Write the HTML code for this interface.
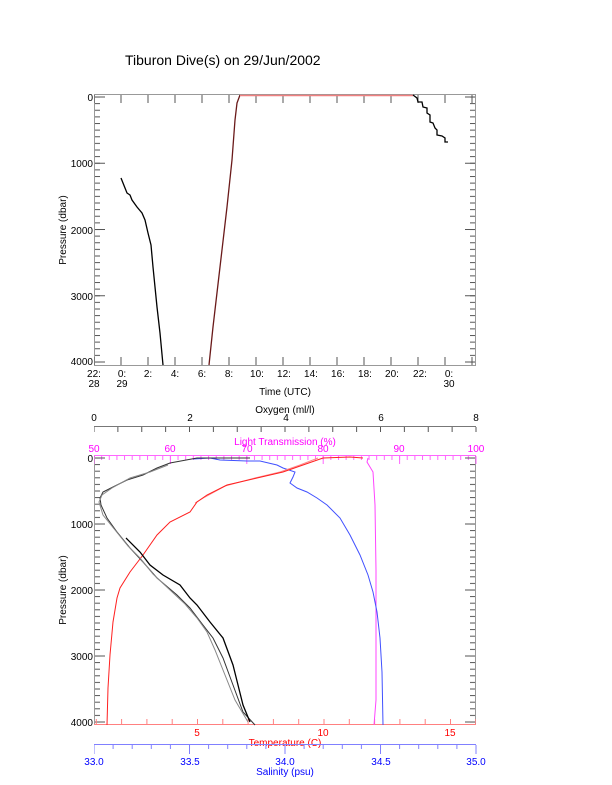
<!DOCTYPE html>
<html><head><meta charset="utf-8"><style>
html,body{margin:0;padding:0;background:#fff;}
svg{display:block;font-family:"Liberation Sans",sans-serif;}
</style></head><body>
<svg width="612" height="785" viewBox="0 0 612 785" xmlns="http://www.w3.org/2000/svg">
<defs>
<pattern id="tyA" patternUnits="userSpaceOnUse" x="0" y="96.5" width="20" height="6.625"><rect x="0" y="0" width="20" height="1" fill="#555"/></pattern>
<pattern id="tyB" patternUnits="userSpaceOnUse" x="0" y="457.5" width="20" height="6.6"><rect x="0" y="0" width="20" height="1" fill="#555"/></pattern>
<pattern id="tyA10" patternUnits="userSpaceOnUse" x="0" y="96.5" width="20" height="66.25"><rect x="0" y="0" width="20" height="1" fill="#555"/></pattern>
<pattern id="tyB10" patternUnits="userSpaceOnUse" x="0" y="457.5" width="20" height="66"><rect x="0" y="0" width="20" height="1" fill="#555"/></pattern>
<pattern id="tx27" patternUnits="userSpaceOnUse" x="93.5" y="0" width="27" height="20"><rect x="0" y="0" width="1" height="20" fill="#555"/></pattern>
<pattern id="txLT" patternUnits="userSpaceOnUse" x="93.5" y="0" width="7.64" height="20"><rect x="0" y="0" width="1" height="20" fill="#ff66ff"/></pattern>
<pattern id="txLT10" patternUnits="userSpaceOnUse" x="93.5" y="0" width="76.4" height="20"><rect x="0" y="0" width="1" height="20" fill="#ff66ff"/></pattern>
<pattern id="txOx" patternUnits="userSpaceOnUse" x="93.5" y="0" width="23.875" height="20"><rect x="0" y="0" width="1" height="20" fill="#555"/></pattern>
<pattern id="txT" patternUnits="userSpaceOnUse" x="70.5" y="0" width="25.3" height="20"><rect x="0" y="0" width="1" height="20" fill="#ff8080"/></pattern>
<pattern id="txS" patternUnits="userSpaceOnUse" x="93.5" y="0" width="19.1" height="20"><rect x="0" y="0" width="1" height="20" fill="#8080ff"/></pattern>
<pattern id="txS5" patternUnits="userSpaceOnUse" x="93.5" y="0" width="95.5" height="20"><rect x="0" y="0" width="1" height="20" fill="#8080ff"/></pattern>
</defs>

<text x="125" y="65" font-size="14" fill="#000">Tiburon Dive(s) on 29/Jun/2002</text>

<!-- TOP PLOT -->
<rect x="94.5" y="94.5" width="381" height="271" fill="none" stroke="#999" stroke-width="1"/>
<rect x="95" y="96" width="5" height="267" fill="url(#tyA)"/>
<rect x="95" y="96" width="10" height="267" fill="url(#tyA10)"/>
<rect x="470" y="96" width="5" height="267" fill="url(#tyA)"/>
<rect x="465" y="96" width="10" height="267" fill="url(#tyA10)"/>
<rect x="94" y="357" width="382" height="8" fill="url(#tx27)"/>
<rect x="94" y="95" width="382" height="8" fill="url(#tx27)"/>
<g font-size="10" fill="#000" text-anchor="end">
<text x="93" y="101">0</text><text x="93" y="167">1000</text><text x="93" y="234">2000</text><text x="93" y="300">3000</text><text x="93" y="365">4000</text>
</g>
<g font-size="10" fill="#000" text-anchor="middle">
<text x="94" y="377">22:</text><text x="94" y="387">28</text>
<text x="122" y="377">0:</text><text x="122" y="387">29</text>
<text x="148" y="377">2:</text><text x="175" y="377">4:</text><text x="202" y="377">6:</text><text x="229" y="377">8:</text>
<text x="257" y="377">10:</text><text x="284" y="377">12:</text><text x="311" y="377">14:</text><text x="338" y="377">16:</text><text x="365" y="377">18:</text><text x="392" y="377">20:</text><text x="420" y="377">22:</text>
<text x="449" y="377">0:</text><text x="449" y="387">30</text>
<text x="285" y="395">Time (UTC)</text>
</g>
<text transform="translate(66,230) rotate(-90)" font-size="10" text-anchor="middle">Pressure (dbar)</text>
<g fill="none" stroke-width="1.3">
<polyline stroke="#000" points="121,178 125,188 127,193 130,195 132,200 137,207 142,213 145,220 148,233 151,245 153,267 157,307 160,333 163,365"/>
<polyline stroke="#6a1a1a" points="209,365 213,327 220,267 227,207 232,160 235,120 237,103 240,95"/>
<line x1="240" y1="95.5" x2="413" y2="95.5" stroke="#f08080" stroke-width="1.5"/>
<polyline stroke="#000" points="413,95 417,98 418,102 422,102 423,107 427,108 427,113 430,115 430,122 433,123 435,128 437,130 437,135 442,136 445,138 445,142 448,142"/>
</g>

<!-- BOTTOM PLOT -->
<line x1="94" y1="426.5" x2="476" y2="426.5" stroke="#777"/>
<rect x="94" y="427" width="383" height="5" fill="url(#txOx)"/>
<g font-size="10" text-anchor="middle">
<text x="94" y="421">0</text><text x="190" y="421">2</text><text x="286" y="421">4</text><text x="381" y="421">6</text><text x="476" y="421">8</text>
<text x="285" y="413">Oxygen (ml/l)</text>
</g>
<g font-size="10" text-anchor="middle" fill="#ff00ff">
<text x="285" y="445">Light Transmission (%)</text>
<text x="94" y="452">50</text><text x="170" y="452">60</text><text x="247" y="452">70</text><text x="323" y="452">80</text><text x="399" y="452">90</text><text x="476" y="452">100</text>
</g>
<rect x="94.5" y="455.5" width="381" height="269" fill="none" stroke="#999"/>
<line x1="94" y1="455.5" x2="476" y2="455.5" stroke="#ff66ff"/>
<rect x="94" y="456" width="383" height="4" fill="url(#txLT)"/>
<rect x="94" y="456" width="383" height="8" fill="url(#txLT10)"/>
<rect x="95" y="457" width="5" height="267" fill="url(#tyB)"/>
<rect x="95" y="457" width="10" height="267" fill="url(#tyB10)"/>
<rect x="470" y="457" width="5" height="267" fill="url(#tyB)"/>
<rect x="465" y="457" width="10" height="267" fill="url(#tyB10)"/>
<line x1="94" y1="724.5" x2="476" y2="724.5" stroke="#ff8080"/>
<rect x="95" y="719" width="381" height="5" fill="url(#txT)"/>
<g font-size="10" fill="#000" text-anchor="end">
<text x="93" y="462">0</text><text x="93" y="528">1000</text><text x="93" y="594">2000</text><text x="93" y="660">3000</text><text x="93" y="726">4000</text>
</g>
<text transform="translate(66,590) rotate(-90)" font-size="10" text-anchor="middle">Pressure (dbar)</text>
<g font-size="10" text-anchor="middle" fill="#ff0000">
<text x="197" y="736">5</text><text x="323" y="736">10</text><text x="450" y="736">15</text>
<text x="285" y="746">Temperature (C)</text>
</g>
<line x1="94" y1="744.5" x2="476" y2="744.5" stroke="#8080ff"/>
<rect x="94" y="745" width="383" height="4" fill="url(#txS)"/>
<rect x="94" y="745" width="383" height="9" fill="url(#txS5)"/>
<g font-size="10" text-anchor="middle" fill="#0000ff">
<text x="94" y="765">33.0</text><text x="190" y="765">33.5</text><text x="285" y="765">34.0</text><text x="381" y="765">34.5</text><text x="476" y="765">35.0</text>
<text x="285" y="775">Salinity (psu)</text>
</g>

<g fill="none" stroke-width="1">
<polyline stroke="#ff44ff" points="368,458 367,462 370,467 373,472 375,505 376,570 376,700 374,725"/>
<polyline stroke="#4050ff" points="193,459 210,458 220,460 247,461 260,461 277,465 283,468 295,472 293,477 290,483 297,488 307,492 317,498 327,505 340,518 350,535 360,555 368,575 373,592 377,612 380,638 382,672 383,725"/>
<polyline stroke="#ff8888" points="318,458 300,465 280,472 255,478 225,486 205,497 195,503"/>
<polyline stroke="#ff2020" points="363,458 350,457 323,458 303,465 283,472 257,478 227,485 207,495 197,502 190,512 170,522 157,535 143,555 130,572 120,588 117,598 113,622 110,655 108,688 107,725"/>
<polyline stroke="#333" points="250,458 197,458 170,463 157,468 143,475 127,480 113,487 103,492 100,498 101,505 107,518 117,532 130,548 143,562 157,578 177,595 190,608 203,625 213,638 223,658 233,685 243,712 255,725"/>
<polyline stroke="#888" points="168,465 150,472 130,478 112,488 102,495 99,502 103,515 115,530 128,546 140,558 153,574 170,590 185,604 197,618 207,632 215,650 225,675 235,700 248,722"/>
<polyline stroke="#000" stroke-width="1.3" points="126,538 140,552 150,565 163,575 180,585 190,598 197,605 210,622 223,638 233,665 238,685 243,705 250,722"/>
</g>
</svg>
</body></html>
